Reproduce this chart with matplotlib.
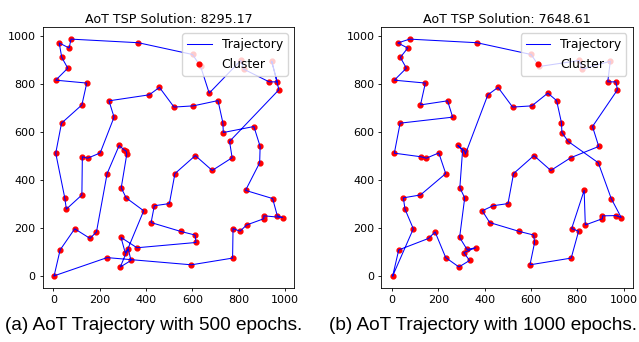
import matplotlib
matplotlib.use("Agg")
import matplotlib.pyplot as plt


# Tour after 500 epochs (city coordinates in visiting order)
tour500_x = [3, 29, 92, 158, 186, 232, 284, 305, 314, 317, 293, 314, 390, 289, 335, 324, 310, 292, 361, 616,
             612, 550, 422, 436, 501, 525, 613, 686, 772, 761, 974, 943, 967, 932, 822, 809, 673, 636, 601, 367,
             76, 68, 25, 36, 62, 10, 144, 123, 35, 10, 49, 56, 123, 125, 148, 202, 262, 240, 414, 458,
             521, 604, 711, 732, 734, 866, 893, 891, 830, 947, 967, 990, 909, 909, 835, 806, 776, 774, 596, 232]
tour500_y = [0, 108, 196, 156, 183, 426, 543, 525, 520, 507, 367, 325, 271, 37, 64, 110, 97, 160, 117, 139,
             170, 185, 222, 292, 301, 426, 501, 439, 492, 560, 775, 894, 808, 808, 861, 897, 761, 872, 922, 971,
             986, 949, 970, 910, 865, 815, 803, 712, 636, 511, 325, 278, 337, 496, 490, 512, 661, 729, 754, 785,
             703, 708, 730, 638, 597, 622, 539, 471, 356, 322, 251, 243, 250, 238, 212, 186, 197, 74, 46, 76]

# Tour after 1000 epochs
tour1000_x = [3, 92, 56, 49, 123, 232, 202, 148, 125, 10, 35, 262, 240, 123, 144, 10, 62, 36, 68, 25,
              76, 367, 601, 636, 809, 822, 943, 932, 967, 974, 866, 893, 772, 686, 613, 525, 501, 436, 390, 422,
              550, 612, 616, 596, 774, 806, 776, 830, 835, 909, 909, 967, 990, 947, 891, 761, 734, 732, 711, 673,
              604, 521, 458, 414, 317, 314, 284, 305, 293, 314, 292, 324, 361, 310, 335, 289, 232, 186, 158, 29]
tour1000_y = [0, 196, 278, 325, 337, 426, 512, 490, 496, 511, 636, 661, 729, 712, 803, 815, 865, 910, 949, 970,
              986, 971, 922, 872, 897, 861, 894, 808, 808, 775, 622, 539, 492, 439, 501, 426, 301, 292, 271, 222,
              185, 170, 139, 46, 74, 186, 197, 356, 212, 238, 250, 251, 243, 322, 471, 560, 597, 638, 730, 761,
              708, 703, 785, 754, 507, 520, 543, 525, 367, 325, 160, 110, 117, 97, 64, 37, 76, 183, 156, 108]

costs = ["8295.17", "7648.61"]
captions = ["(a) AoT Trajectory with 500 epochs.", "(b) AoT Trajectory with 1000 epochs."]


def plot_tour(ax, xs, ys, cost):
    # close the loop back to the start city
    ax.plot(xs + xs[:1], ys + ys[:1], color="blue", lw=0.75, label="Trajectory", zorder=2)
    ax.scatter(xs, ys, c="red", s=12, label="Cluster", zorder=1)
    ax.set_title("AoT TSP Solution: " + cost, fontsize=9.1, pad=3)
    ax.set_xticks([0, 200, 400, 600, 800, 1000])
    ax.set_yticks([0, 200, 400, 600, 800, 1000])
    ax.tick_params(labelsize=8, length=2.5, width=0.6, pad=2.5)
    for s in ax.spines.values():
        s.set_linewidth(0.6)
    ax.legend(loc="upper right", fontsize=8.9, scatterpoints=1)


if __name__ == "__main__":
    fig = plt.figure(figsize=(6.39, 3.42), dpi=100)
    ax1 = fig.add_axes([0.0668, 0.1588, 0.3933, 0.7614])
    ax2 = fig.add_axes([0.5967, 0.1588, 0.3933, 0.7614])

    plot_tour(ax1, tour500_x, tour500_y, costs[0])
    plot_tour(ax2, tour1000_x, tour1000_y, costs[1])

    # sub-figure captions
    fig.text(153.5 / 639, 1 - 326 / 342, captions[0], ha="center", va="center",
             fontsize=13.7, family="Liberation Sans")
    fig.text(483 / 639, 1 - 326 / 342, captions[1], ha="center", va="center",
             fontsize=13.7, family="Liberation Sans")

    fig.savefig("out.png", dpi=100)
